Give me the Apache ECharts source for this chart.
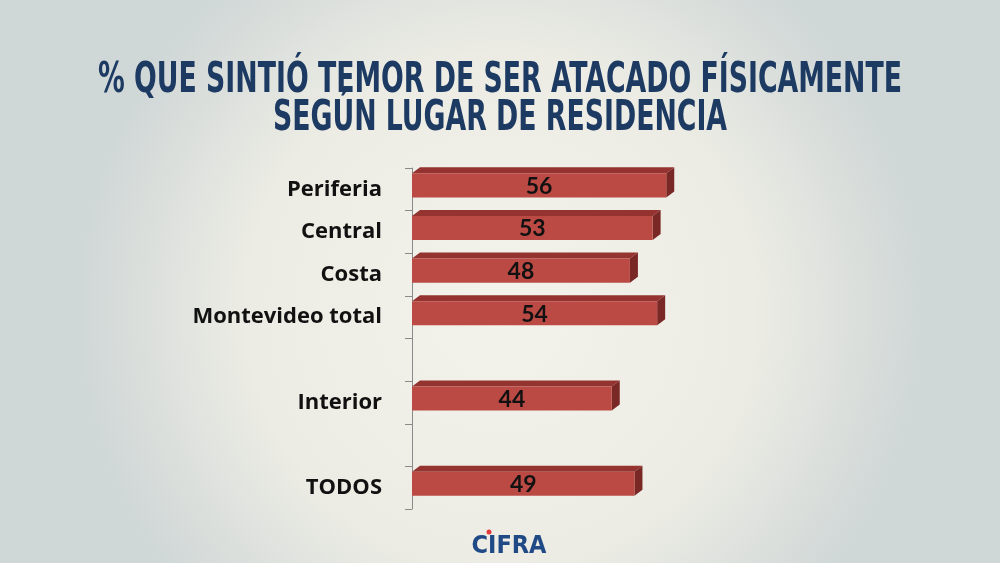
<!DOCTYPE html>
<html><head><meta charset="utf-8">
<script src="https://cdn.jsdelivr.net/npm/echarts@6/dist/echarts.min.js"></script>
<style>html,body{margin:0;padding:0;}#c{width:1000px;height:563px;}</style>
</head><body><div id="c"></div>
<script>
const categories = ['Periferia', 'Central', 'Costa', 'Montevideo total', '', 'Interior', '', 'TODOS'];
const values = [56, 53, 48, 54, null, 44, null, 49];
const titleLine1 = '% QUE SINTIÓ TEMOR DE SER ATACADO FÍSICAMENTE';
const titleLine2 = 'SEGÚN LUGAR DE RESIDENCIA';

const seriesData = [];
values.forEach((v, i) => { if (v != null) seriesData.push([v, i]); });

const titleFont = 'bold 42px "DejaVu Sans Condensed"';
const cv = document.createElement('canvas').getContext('2d');
cv.font = titleFont;
const w1 = cv.measureText(titleLine1).width;
const sx = 804 / w1;

const chart = echarts.init(document.getElementById('c'));
chart.setOption({
  backgroundColor: {type: 'radial', x: 0.5, y: 0.55, r: 0.75,
    colorStops: [{offset: 0, color: '#f3f3ec'}, {offset: 0.6, color: '#ecece4'}, {offset: 1, color: '#d0d7d7'}]},
  grid: {left: 412, right: 134, top: 168, bottom: 54},
  xAxis: {type: 'value', min: 0, max: 100, show: false},
  yAxis: {type: 'category', data: categories, inverse: true, offset: 6,
    axisLine: {show: true, lineStyle: {color: '#8a8a8a', width: 1}},
    axisTick: {show: true, length: 7, lineStyle: {color: '#8a8a8a'}},
    axisLabel: {margin: 24, color: '#111', fontSize: 22, fontWeight: 'bold', fontFamily: 'Open Sans', padding: [4, 0, 0, 0]}},
  graphic: [
    {type: 'text', x: 500, y: 60, scaleX: sx, originX: 0, style: {text: titleLine1, font: titleFont, fill: '#1d3a63', textAlign: 'center', textVerticalAlign: 'top'}},
    {type: 'text', x: 500, y: 98, scaleX: sx, originX: 0, style: {text: titleLine2, font: titleFont, fill: '#1d3a63', textAlign: 'center', textVerticalAlign: 'top'}},
    {type: 'text', x: 509, y: 546, style: {text: 'CIFRA', font: 'bold 25px "DejaVu Sans Condensed"', fill: '#1f4a86', textAlign: 'center', textVerticalAlign: 'middle'}},
    {type: 'circle', shape: {cx: 489, cy: 532, r: 2.5}, style: {fill: '#e23a3a'}}
  ],
  series: [{
    type: 'custom',
    data: seriesData,
    encode: {x: 0, y: 1},
    renderItem: function (params, api) {
      const v = api.value(0), idx = api.value(1);
      const p0 = api.coord([0, idx]);
      const p1 = api.coord([v, idx]);
      const band = api.size([0, 1])[1];
      const x0 = p0[0], x1 = p1[0], c = p0[1];
      const yT = c - band * 0.375, yB = c + band * 0.19;
      const dx = 8, dy = band * 0.14;
      return {type: 'group', children: [
        {type: 'polygon', shape: {points: [[x0, yT], [x0 + dx, yT - dy], [x1 + dx, yT - dy], [x1, yT]]}, style: {fill: '#94332f'}},
        {type: 'polygon', shape: {points: [[x1, yT], [x1 + dx, yT - dy], [x1 + dx, yB - dy], [x1, yB]]}, style: {fill: '#7a2826'}},
        {type: 'rect', shape: {x: x0, y: yT, width: x1 - x0, height: yB - yT}, style: {fill: '#bb4a44'}},
        {type: 'text', x: (x0 + x1) / 2, y: (yT + yB) / 2 + 1, style: {text: String(v), fill: '#111', font: 'bold 23px Lato', textAlign: 'center', textVerticalAlign: 'middle'}}
      ]};
    }
  }]
});
</script></body></html>
